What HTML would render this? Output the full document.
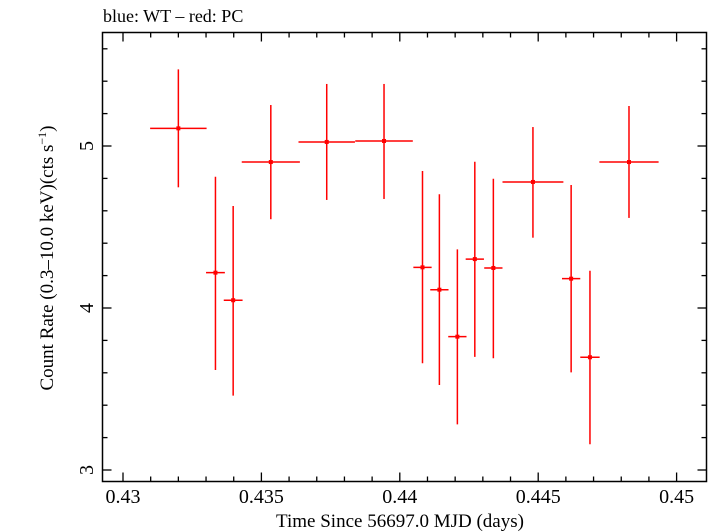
<!DOCTYPE html>
<html><head><meta charset="utf-8"><style>
body{margin:0;background:#fff;}
svg{display:block;}
svg text{font-family:"Liberation Serif","DejaVu Serif",serif;}
</style></head><body>
<svg id="chart" width="709" height="532" viewBox="0 0 709 532" xmlns="http://www.w3.org/2000/svg">
<text x="103" y="22" font-size="18" font-family="Liberation Serif, serif">blue: WT – red: PC</text>
<rect x="102.5" y="32.5" width="604" height="449" fill="none" stroke="#000" stroke-width="1.5"/>
<g id="axes"></g>
<g id="series"></g>
<text x="400" y="527" font-size="19" font-family="Liberation Serif, serif" text-anchor="middle">Time Since 56697.0 MJD (days)</text>
<text transform="translate(53,258) rotate(-90)" font-size="19" font-family="Liberation Serif, serif" text-anchor="middle">Count Rate (0.3–10.0 keV)(cts s<tspan dy="-7" font-size="12">−1</tspan><tspan dy="7">)</tspan></text>
</svg>
<script>
const xTicks=[0.43,0.435,0.44,0.445,0.45];
const xTickLabels=["0.43","0.435","0.44","0.445","0.45"];
const yTicks=[3,4,5];
const yTickLabels=["3","4","5"];
const times=[0.43200,0.43334,0.43398,0.43534,0.43736,0.43943,0.44082,0.44143,0.44208,0.44271,0.44338,0.44481,0.44619,0.44687,0.44828];
const timeErr=[0.00102,0.00034,0.00034,0.00105,0.00102,0.00104,0.00033,0.00033,0.00033,0.00033,0.00033,0.0011,0.00033,0.00035,0.00107];
const rates=[5.109,4.218,4.048,4.901,5.025,5.031,4.251,4.113,3.823,4.302,4.247,4.778,4.181,3.696,4.901];
const rateHi=[5.473,4.810,4.630,5.253,5.383,5.383,4.846,4.702,4.362,4.903,4.798,5.117,4.759,4.230,5.247];
const rateLo=[4.745,3.617,3.459,4.548,4.667,4.673,3.659,3.525,3.282,3.698,3.690,4.434,3.603,3.159,4.556];

const X0=102.5,X1=706.5,Y0=32.5,Y1=481.5;
function xs(v){return 123+(v-0.43)*27680;}
function ys(v){return 470-(v-3)*162;}
const NS="http://www.w3.org/2000/svg";
function mk(tag,attrs,parent){const e=document.createElementNS(NS,tag);for(const k in attrs)e.setAttribute(k,attrs[k]);parent.appendChild(e);return e;}
const axes=document.getElementById('axes');
for(let i=0;i<=21;i++){
  const v=0.43+(i-1)*0.001;const x=xs(v);if(x<X0||x>X1)continue;
  const major=Math.abs(Math.round((v-0.43)/0.005)*0.005-(v-0.43))<1e-7;
  const L=major?9:5;
  const t1=mk('line',{x1:x,x2:x,y1:Y1,y2:Y1-L,stroke:'#000','stroke-width':1.3},axes);
  
  
  const t2=mk('line',{x1:x,x2:x,y1:Y0,y2:Y0+L,stroke:'#000','stroke-width':1.3},axes);
  
  
}
xTicks.forEach((v,i)=>{
  const t=mk('text',{x:xs(v),y:503,'font-size':20,'text-anchor':'middle','font-family':'Liberation Serif, serif'},axes);
  t.textContent=xTickLabels[i];
  
  
});
for(let i=0;i<=14;i++){
  const v=2.8+i*0.2;const y=ys(v);if(y<Y0||y>Y1)continue;
  const major=Math.abs(v-Math.round(v))<1e-6;
  const L=major?9:5;
  const t1=mk('line',{x1:X0,x2:X0+L,y1:y,y2:y,stroke:'#000','stroke-width':1.3},axes);
  
  
  const t2=mk('line',{x1:X1,x2:X1-L,y1:y,y2:y,stroke:'#000','stroke-width':1.3},axes);
  
  
}
yTicks.forEach((v,i)=>{
  const t=mk('text',{transform:`translate(93,${ys(v)}) rotate(-90)`,'font-size':20,'text-anchor':'middle','font-family':'Liberation Serif, serif'},axes);
  t.textContent=yTickLabels[i];
  
  
});
const series=document.getElementById('series');
times.forEach((t,i)=>{
  const g=mk('g',{},series);
  
  
  const cx=xs(t),cy=ys(rates[i]);
  mk('line',{x1:xs(t-timeErr[i]),x2:xs(t+timeErr[i]),y1:cy,y2:cy,stroke:'#f00','stroke-width':1.5},g);
  mk('line',{x1:cx,x2:cx,y1:ys(rateHi[i]),y2:ys(rateLo[i]),stroke:'#f00','stroke-width':1.5},g);
  mk('rect',{x:cx-2,y:cy-2,width:4,height:4,fill:'#f00'},g);
});
</script>
</body></html>
